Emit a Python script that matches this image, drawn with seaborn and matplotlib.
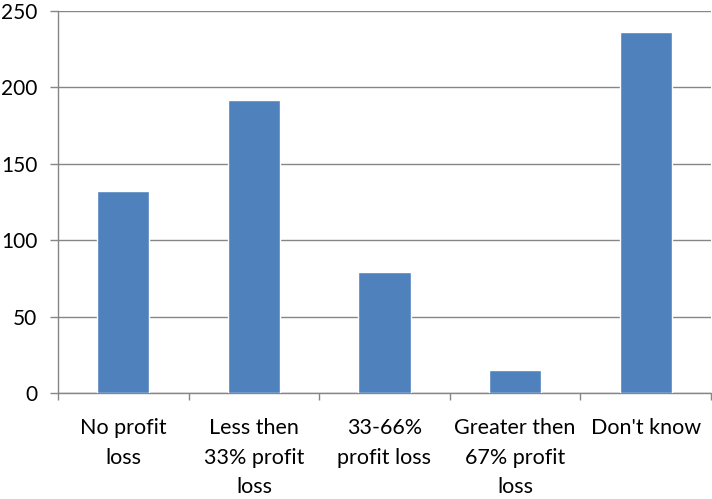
import numpy as np
import pandas as pd
import seaborn as sns
import matplotlib.pyplot as plt

# Survey answers and counts
categories = ["No profit loss", "Less then 33% profit loss", "33-66% profit loss",
              "Greater then 67% profit loss", "Don't know"]
counts = [132, 192, 79, 15, 236]
tick_labels = ["No profit\nloss", "Less then\n33% profit\nloss", "33-66%\nprofit loss",
               "Greater then\n67% profit\nloss", "Don't know"]
y_ticks = [0, 50, 100, 150, 200, 250]

df = pd.DataFrame({"category": categories, "count": counts})

sns.set_style("white")
plt.rcParams["font.family"] = ["Lato", "DejaVu Sans"]

fig = plt.figure(figsize=(7.12, 4.99), dpi=100)
ax = fig.add_axes([0.0815, 0.212, 0.917, 0.766])

sns.barplot(data=df, x="category", y="count", color="#4F81BD", width=0.4,
            saturation=1, ax=ax, zorder=3)

grid_color = "#868686"
ax.set_ylim(0, 250)
ax.set_yticks(y_ticks)
ax.yaxis.grid(True, color=grid_color, linewidth=1, zorder=0)
ax.set_xlim(-0.5, len(categories) - 0.5)

# category labels without ticks, tick marks at category boundaries
ax.set_xticks(range(len(categories)))
ax.set_xticklabels(tick_labels, linespacing=1.6, va="top")
ax.set_xticks(np.arange(-0.5, len(categories)), minor=True)
ax.tick_params(axis="x", which="both", bottom=True)
ax.tick_params(axis="y", which="both", left=True)
ax.tick_params(axis="x", which="major", length=0, pad=18, labelsize=15.5, labelcolor="black")
ax.tick_params(axis="x", which="minor", length=5, width=1, color=grid_color, direction="out")
ax.tick_params(axis="y", length=6, width=1, color=grid_color, direction="out",
               labelsize=15, pad=9, labelcolor="black")

ax.set_xlabel("")
ax.set_ylabel("")
for side in ["top", "right"]:
    ax.spines[side].set_visible(False)
for side in ["left", "bottom"]:
    ax.spines[side].set_color(grid_color)
    ax.spines[side].set_linewidth(1)

fig.savefig("out.png", dpi=100)
